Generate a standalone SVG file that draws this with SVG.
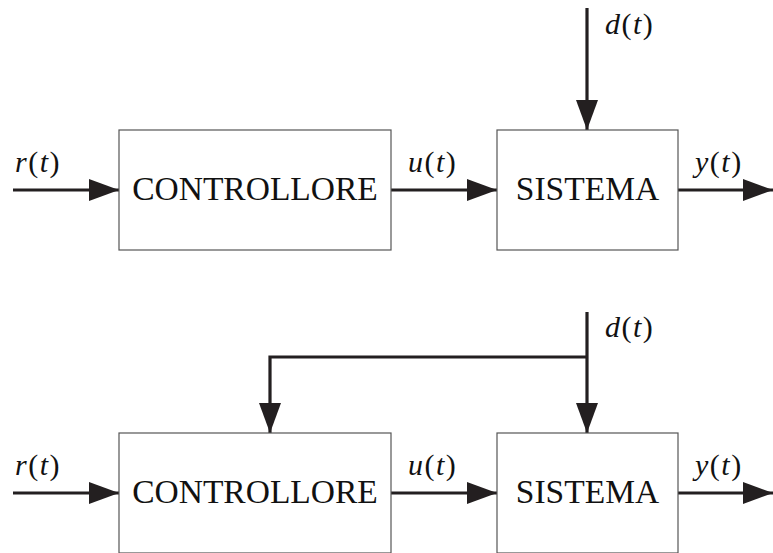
<svg xmlns="http://www.w3.org/2000/svg" width="773" height="553" viewBox="0 0 773 553">
<defs>
<marker id="ah" markerUnits="userSpaceOnUse" markerWidth="30" markerHeight="22" refX="30" refY="11" orient="auto">
<path d="M0,0 L30,11 L0,22 Z" fill="#231f20"/>
</marker>
</defs>
<style>
.box{fill:#fff;stroke:#555;stroke-width:1.2}
.w{stroke:#231f20;stroke-width:3.2;fill:none}
.a{marker-end:url(#ah)}
.t{font-family:"Liberation Serif","Times New Roman",serif;font-size:33.5px;fill:#111;text-anchor:middle}
.l{font-family:"Liberation Serif","Times New Roman",serif;font-size:30px;fill:#111;letter-spacing:1.5px}
.i{font-style:italic}
</style>
<rect width="773" height="553" fill="#fff"/>
<g id="connectors">
<line class="w a" x1="13" y1="190" x2="119" y2="190"/>
<line class="w a" x1="391" y1="190" x2="497" y2="190"/>
<line class="w a" x1="678" y1="190" x2="773" y2="190"/>
<line class="w a" x1="587" y1="8" x2="587" y2="130"/>
<line class="w a" x1="13" y1="493" x2="119" y2="493"/>
<line class="w a" x1="391" y1="493" x2="497" y2="493"/>
<line class="w a" x1="678" y1="493" x2="773" y2="493"/>
<line class="w a" x1="587" y1="312" x2="587" y2="433"/>
<polyline class="w a" points="587,357 270,357 270,433"/>
</g>
<g id="controllore1"><rect class="box" x="119" y="130" width="272" height="120"/><text class="t" x="255" y="200">CONTROLLORE</text></g>
<g id="sistema1"><rect class="box" x="497" y="130" width="181" height="120"/><text class="t" x="587.5" y="200">SISTEMA</text></g>
<g id="controllore2"><rect class="box" x="119" y="433" width="272" height="120"/><text class="t" x="255" y="503">CONTROLLORE</text></g>
<g id="sistema2"><rect class="box" x="497" y="433" width="181" height="120"/><text class="t" x="587.5" y="503">SISTEMA</text></g>
<g id="labels">
<text class="l" x="15" y="172"><tspan class="i">r</tspan>(<tspan class="i">t</tspan>)</text>
<text class="l" x="408" y="172"><tspan class="i">u</tspan>(<tspan class="i">t</tspan>)</text>
<text class="l" x="695" y="172"><tspan class="i">y</tspan>(<tspan class="i">t</tspan>)</text>
<text class="l" x="605" y="34"><tspan class="i">d</tspan>(<tspan class="i">t</tspan>)</text>
<text class="l" x="15" y="475"><tspan class="i">r</tspan>(<tspan class="i">t</tspan>)</text>
<text class="l" x="408" y="475"><tspan class="i">u</tspan>(<tspan class="i">t</tspan>)</text>
<text class="l" x="695" y="475"><tspan class="i">y</tspan>(<tspan class="i">t</tspan>)</text>
<text class="l" x="605" y="337"><tspan class="i">d</tspan>(<tspan class="i">t</tspan>)</text>
</g>
</svg>
